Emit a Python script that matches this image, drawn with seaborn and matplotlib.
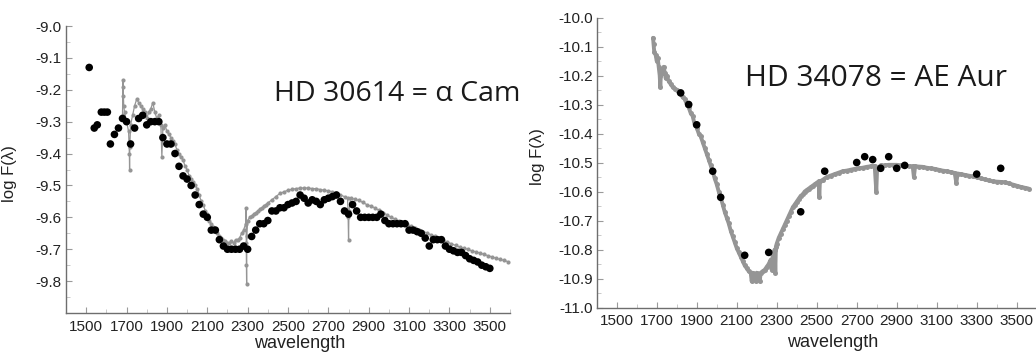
import numpy as np
import pandas as pd
import matplotlib
matplotlib.use("Agg")
import matplotlib.pyplot as plt
from matplotlib.ticker import MultipleLocator, FormatStrFormatter
import seaborn as sns

# ---------------- data: HD 30614 = alpha Cam ----------------
cam_obs_wl = [1515, 1540, 1555, 1575, 1590, 1605, 1620, 1640, 1660, 1680, 1700, 1720, 1740, 1760,
              1780, 1800, 1820, 1840, 1860, 1880, 1900, 1920, 1940, 1960, 1980, 2000, 2020, 2040,
              2060, 2080, 2100, 2120, 2140, 2160, 2180, 2200, 2220, 2240, 2260, 2280, 2300, 2320,
              2340, 2360, 2380, 2400, 2420, 2440, 2460, 2480, 2500, 2520, 2540, 2560, 2580, 2600,
              2620, 2640, 2660, 2680, 2700, 2720, 2740, 2760, 2780, 2800, 2820, 2840, 2860, 2880,
              2900, 2920, 2940, 2960, 2980, 3000, 3020, 3040, 3060, 3080, 3100, 3120, 3140, 3160,
              3180, 3200, 3220, 3240, 3260, 3280, 3300, 3320, 3340, 3360, 3380, 3400, 3420, 3440,
              3460, 3480, 3500]
cam_obs_flux = [-9.13, -9.32, -9.31, -9.27, -9.27, -9.27, -9.37, -9.34, -9.32, -9.29, -9.30, -9.37,
                -9.32, -9.29, -9.28, -9.31, -9.30, -9.30, -9.30, -9.35, -9.37, -9.37, -9.40, -9.44,
                -9.47, -9.48, -9.50, -9.53, -9.56, -9.59, -9.60, -9.64, -9.64, -9.67, -9.69, -9.70,
                -9.70, -9.70, -9.70, -9.69, -9.70, -9.66, -9.64, -9.62, -9.62, -9.61, -9.58, -9.58,
                -9.57, -9.57, -9.56, -9.555, -9.55, -9.53, -9.54, -9.555, -9.545, -9.55, -9.56,
                -9.545, -9.54, -9.535, -9.53, -9.55, -9.58, -9.59, -9.56, -9.58, -9.60, -9.60,
                -9.60, -9.60, -9.60, -9.59, -9.61, -9.62, -9.62, -9.62, -9.62, -9.62, -9.64, -9.64,
                -9.645, -9.65, -9.665, -9.69, -9.67, -9.67, -9.67, -9.69, -9.70, -9.705, -9.71,
                -9.71, -9.72, -9.73, -9.735, -9.74, -9.75, -9.755, -9.76]

cam_spec_wl = [1680, 1682, 1683, 1684, 1686, 1690, 1700, 1710, 1714, 1715, 1716, 1720, 1730, 1740,
               1750, 1760, 1770, 1780, 1790, 1800, 1810, 1820, 1830, 1840, 1850, 1860, 1870, 1875,
               1880, 1890, 1900, 1910, 1920, 1930, 1940, 1950, 1960, 1970, 1980, 1990, 2000, 2010,
               2020, 2030, 2040, 2050, 2060, 2070, 2080, 2090, 2100, 2110, 2120, 2130, 2140, 2150,
               2160, 2170, 2180, 2190, 2200, 2210, 2220, 2230, 2240, 2250, 2260, 2270, 2280, 2290,
               2292, 2293, 2294, 2295, 2296, 2300, 2310, 2320, 2330, 2340, 2350, 2360, 2370, 2380,
               2390, 2400, 2420, 2440, 2460, 2480, 2500, 2520, 2540, 2560, 2580, 2600, 2620, 2640,
               2660, 2680, 2700, 2720, 2740, 2760, 2780, 2795, 2798, 2800, 2802, 2810, 2830, 2850,
               2870, 2890, 2910, 2930, 2950, 2970, 2990, 3010, 3030, 3050, 3070, 3090, 3110, 3130,
               3150, 3170, 3190, 3210, 3230, 3250, 3270, 3290, 3310, 3330, 3350, 3370, 3390, 3410,
               3430, 3450, 3470, 3490, 3510, 3530, 3550, 3570, 3590]
cam_spec_flux = [-9.28, -9.17, -9.19, -9.22, -9.25, -9.27, -9.30, -9.33, -9.40, -9.45, -9.38, -9.31,
                 -9.28, -9.25, -9.23, -9.24, -9.25, -9.26, -9.27, -9.29, -9.27, -9.26, -9.24, -9.27,
                 -9.29, -9.28, -9.31, -9.41, -9.32, -9.31, -9.33, -9.34, -9.35, -9.36, -9.37, -9.39,
                 -9.40, -9.41, -9.42, -9.44, -9.45, -9.47, -9.48, -9.49, -9.50, -9.51, -9.53, -9.55,
                 -9.56, -9.58, -9.59, -9.61, -9.62, -9.63, -9.64, -9.65, -9.66, -9.665, -9.67,
                 -9.675, -9.68, -9.68, -9.675, -9.68, -9.67, -9.67, -9.665, -9.65, -9.64, -9.62,
                 -9.57, -9.68, -9.75, -9.81, -9.66, -9.61, -9.60, -9.595, -9.59, -9.585, -9.58,
                 -9.575, -9.57, -9.565, -9.56, -9.555, -9.545, -9.535, -9.525, -9.52, -9.515,
                 -9.512, -9.51, -9.508, -9.508, -9.508, -9.51, -9.51, -9.513, -9.515, -9.517, -9.52,
                 -9.525, -9.53, -9.535, -9.54, -9.60, -9.67, -9.58, -9.54, -9.543, -9.547, -9.553,
                 -9.56, -9.565, -9.57, -9.578, -9.585, -9.592, -9.60, -9.605, -9.612, -9.618, -9.622,
                 -9.628, -9.634, -9.64, -9.645, -9.65, -9.655, -9.66, -9.666, -9.672, -9.678,
                 -9.683, -9.688, -9.693, -9.697, -9.70, -9.705, -9.708, -9.712, -9.716, -9.72,
                 -9.724, -9.728, -9.732, -9.735, -9.739]

# ---------------- data: HD 34078 = AE Aur ----------------
aur_obs_wl = [1820, 1860, 1900, 1980, 2020, 2140, 2260, 2420, 2540, 2700, 2740, 2780, 2820, 2860,
              2900, 2940, 3300, 3420]
aur_obs_flux = [-10.26, -10.30, -10.37, -10.53, -10.62, -10.82, -10.81, -10.67, -10.53, -10.50,
                -10.48, -10.49, -10.52, -10.48, -10.52, -10.51, -10.54, -10.52]

aur_spec_wl = [1682, 1684, 1688, 1695, 1700, 1705, 1710, 1715, 1718, 1722, 1730, 1735, 1740, 1745,
               1750, 1760, 1770, 1780, 1790, 1800, 1810, 1820, 1830, 1840, 1850, 1860, 1870, 1880,
               1890, 1900, 1910, 1920, 1930, 1940, 1950, 1960, 1970, 1980, 1990, 2000, 2010, 2020,
               2030, 2040, 2050, 2060, 2070, 2080, 2090, 2100, 2110, 2120, 2130, 2140, 2150, 2160,
               2170, 2175, 2180, 2190, 2195, 2200, 2210, 2215, 2220, 2230, 2240, 2250, 2260, 2270,
               2275, 2280, 2290, 2293, 2296, 2300, 2310, 2320, 2330, 2340, 2350, 2360, 2370, 2380,
               2390, 2400, 2410, 2420, 2430, 2440, 2450, 2460, 2470, 2480, 2490, 2500, 2510, 2513,
               2516, 2530, 2550, 2570, 2590, 2610, 2630, 2650, 2670, 2690, 2710, 2730, 2750, 2770,
               2790, 2798, 2802, 2820, 2840, 2860, 2880, 2900, 2920, 2940, 2960, 2980, 2986, 2992,
               3010, 3030, 3050, 3070, 3090, 3110, 3130, 3150, 3170, 3190, 3198, 3205, 3220, 3240,
               3260, 3280, 3300, 3320, 3340, 3360, 3380, 3400, 3420, 3440, 3460, 3480, 3500, 3520,
               3540, 3560]
aur_spec_flux = [-10.07, -10.09, -10.12, -10.13, -10.15, -10.14, -10.17, -10.20, -10.24, -10.18,
                 -10.19, -10.17, -10.19, -10.21, -10.20, -10.22, -10.23, -10.24, -10.245, -10.25,
                 -10.26, -10.265, -10.275, -10.28, -10.30, -10.31, -10.33, -10.34, -10.37, -10.38,
                 -10.40, -10.41, -10.43, -10.45, -10.47, -10.49, -10.51, -10.53, -10.555, -10.575,
                 -10.60, -10.62, -10.645, -10.67, -10.69, -10.71, -10.735, -10.755, -10.775,
                 -10.795, -10.81, -10.825, -10.84, -10.855, -10.865, -10.875, -10.88, -10.91,
                 -10.88, -10.885, -10.91, -10.88, -10.885, -10.91, -10.88, -10.875, -10.87, -10.86,
                 -10.85, -10.835, -10.87, -10.82, -10.80, -10.88, -10.79, -10.78, -10.76, -10.745,
                 -10.73, -10.715, -10.70, -10.685, -10.67, -10.655, -10.645, -10.635, -10.625,
                 -10.615, -10.61, -10.60, -10.595, -10.59, -10.585, -10.58, -10.575, -10.57,
                 -10.565, -10.62, -10.565, -10.56, -10.55, -10.545, -10.54, -10.535, -10.53,
                 -10.528, -10.525, -10.522, -10.52, -10.518, -10.515, -10.513, -10.512, -10.60,
                 -10.52, -10.51, -10.51, -10.508, -10.508, -10.508, -10.51, -10.51, -10.512,
                 -10.513, -10.55, -10.513, -10.514, -10.515, -10.518, -10.52, -10.522, -10.525,
                 -10.528, -10.53, -10.533, -10.536, -10.57, -10.538, -10.54, -10.543, -10.545,
                 -10.548, -10.55, -10.555, -10.558, -10.562, -10.565, -10.566, -10.567, -10.568,
                 -10.572, -10.576, -10.58, -10.584, -10.587, -10.59]

xticks = [1500, 1700, 1900, 2100, 2300, 2500, 2700, 2900, 3100, 3300, 3500]
cam_label = "HD 30614 = \u03b1 Cam"
aur_label = "HD 34078 = AE Aur"

# ---------------- styling ----------------
sns.set_theme(style="ticks")
plt.rcParams["font.family"] = ["Liberation Sans", "DejaVu Sans"]
plt.rcParams["axes.unicode_minus"] = False

GREY = "#959595"
SPINE = "#6e6e6e"

fig = plt.figure(figsize=(10.36, 3.54), dpi=100)
ax1 = fig.add_axes([66 / 1036, 1 - 313 / 354, 444 / 1036, 287 / 354])
ax2 = fig.add_axes([596.7 / 1036, 1 - 307.5 / 354, 440 / 1036, 290 / 354])

cam_spec = pd.DataFrame({"wl": cam_spec_wl, "flux": cam_spec_flux})
cam_obs = pd.DataFrame({"wl": cam_obs_wl, "flux": cam_obs_flux})
aur_spec = pd.DataFrame({"wl": aur_spec_wl, "flux": aur_spec_flux})
aur_obs = pd.DataFrame({"wl": aur_obs_wl, "flux": aur_obs_flux})

# left panel
sns.lineplot(data=cam_spec, x="wl", y="flux", ax=ax1, color=GREY, lw=0.9,
             estimator=None, sort=False, marker="o", markersize=3.0,
             markeredgewidth=0, markerfacecolor=GREY)
sns.scatterplot(data=cam_obs, x="wl", y="flux", ax=ax1, color="black", s=30,
                edgecolor="none", zorder=5)

# right panel
sns.lineplot(data=aur_spec, x="wl", y="flux", ax=ax2, color=GREY, lw=2.8,
             estimator=None, sort=False, marker="o", markersize=3.6,
             markeredgewidth=0, markerfacecolor=GREY)
sns.scatterplot(data=aur_obs, x="wl", y="flux", ax=ax2, color="black", s=30,
                edgecolor="none", zorder=5)

for ax, (ylo, yhi), ytk in [(ax1, (-9.9, -9.0), np.arange(-9.8, -8.95, 0.1)),
                            (ax2, (-11.0, -10.0), np.arange(-11.0, -9.95, 0.1))]:
    ax.set_xlim(1400, 3600)
    ax.set_ylim(ylo, yhi)
    ax.set_xticks(xticks)
    ax.set_xticklabels([str(t) for t in xticks])
    ax.xaxis.set_minor_locator(MultipleLocator(100))
    ax.set_yticks(ytk)
    ax.yaxis.set_major_formatter(FormatStrFormatter("%.1f"))
    ax.yaxis.set_minor_locator(MultipleLocator(0.05))
    ax.tick_params(which="major", direction="in", length=4, width=0.8, color="#9a9a9a",
                   labelsize=11, labelcolor="#222222")
    ax.tick_params(which="minor", direction="in", length=3, width=0.6, color="#c0c0c0")
    ax.tick_params(axis="x", pad=5)
    ax.tick_params(axis="y", pad=3)
    for s in ["top", "right"]:
        ax.spines[s].set_visible(False)
    for s in ["left", "bottom"]:
        ax.spines[s].set_color(SPINE)
        ax.spines[s].set_linewidth(1.0)
    ax.set_xlabel("wavelength", fontsize=13, color="#222222")
    ax.set_ylabel("log F(\u03bb)", fontsize=12, color="#222222")

ax1.xaxis.set_label_coords(0.527, -0.075)
ax2.xaxis.set_label_coords(0.537, -0.093)
ax1.yaxis.set_label_coords(-0.11, 0.485)
ax2.yaxis.set_label_coords(-0.117, 0.52)

ax1.text(0.745, 0.763, cam_label, transform=ax1.transAxes, ha="center", va="center",
         fontsize=20.5, family=["Open Sans", "DejaVu Sans"], color="#1a1a1a", clip_on=False)
ax2.text(0.635, 0.788, aur_label, transform=ax2.transAxes, ha="center", va="center",
         fontsize=21.5, family=["Open Sans", "DejaVu Sans"], color="#1a1a1a", clip_on=False)

fig.savefig("out.png", dpi=100, facecolor="white")
